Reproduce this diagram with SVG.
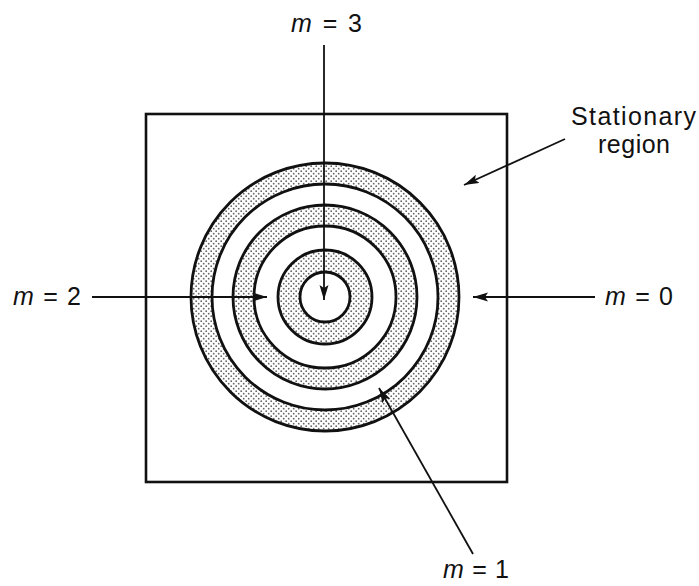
<svg xmlns="http://www.w3.org/2000/svg" width="699" height="586" viewBox="0 0 699 586">
<style>
.lbl{font-family:"Liberation Sans",Arial,sans-serif;font-size:25px;fill:#111}
.it{font-style:italic}
.ring{stroke:#111;stroke-width:2.8}
.conn{stroke:#111;stroke-width:1.8;fill:none}
</style>
<defs>
<pattern id="dots" width="5" height="5" patternUnits="userSpaceOnUse">
<rect width="5" height="5" fill="#fff"/>
<circle cx="1.2" cy="1.2" r="0.9" fill="#666"/>
<circle cx="3.7" cy="3.7" r="0.9" fill="#666"/>
</pattern>
<marker id="ah" markerUnits="userSpaceOnUse" markerWidth="16" markerHeight="10" refX="15" refY="4.5" orient="auto">
<path d="M0,0 L15,4.5 L0,9 L3,4.5 z" fill="#111"/>
</marker>
</defs>
<rect width="699" height="586" fill="#fff"/>
<g id="square"><rect x="146" y="114" width="361" height="368" fill="none" stroke="#111" stroke-width="2.6"/></g>
<g id="rings">
<circle class="ring" cx="325" cy="297" r="134" fill="url(#dots)"/>
<circle class="ring" cx="325" cy="297" r="113" fill="#fff"/>
<circle class="ring" cx="325" cy="297" r="92" fill="url(#dots)"/>
<circle class="ring" cx="325" cy="297" r="71" fill="#fff"/>
<circle class="ring" cx="325" cy="297" r="47" fill="url(#dots)"/>
<circle class="ring" cx="325" cy="297" r="25" fill="#fff"/>
</g>
<g id="connectors">
<line class="conn" x1="324" y1="45" x2="324" y2="300" marker-end="url(#ah)"/>
<line class="conn" x1="92" y1="297" x2="267" y2="297" marker-end="url(#ah)"/>
<line class="conn" x1="595" y1="297" x2="473" y2="297" marker-end="url(#ah)"/>
<line class="conn" x1="473" y1="554" x2="379" y2="388" marker-end="url(#ah)"/>
<line class="conn" x1="565" y1="139" x2="464" y2="185" marker-end="url(#ah)"/>
</g>
<g id="label-m3"><text class="lbl" x="291" y="32" textLength="71" lengthAdjust="spacing"><tspan class="it">m</tspan> = 3</text></g>
<g id="label-m2"><text class="lbl" x="13" y="305" textLength="68" lengthAdjust="spacing"><tspan class="it">m</tspan> = 2</text></g>
<g id="label-m0"><text class="lbl" x="605" y="305" textLength="68" lengthAdjust="spacing"><tspan class="it">m</tspan> = 0</text></g>
<g id="label-m1"><text class="lbl" x="443" y="578" textLength="66" lengthAdjust="spacing"><tspan class="it">m</tspan> = 1</text></g>
<g id="label-stationary">
<text class="lbl" x="571" y="125" textLength="125" lengthAdjust="spacing">Stationary</text>
<text class="lbl" x="598" y="153" textLength="72" lengthAdjust="spacing">region</text>
</g>
</svg>
